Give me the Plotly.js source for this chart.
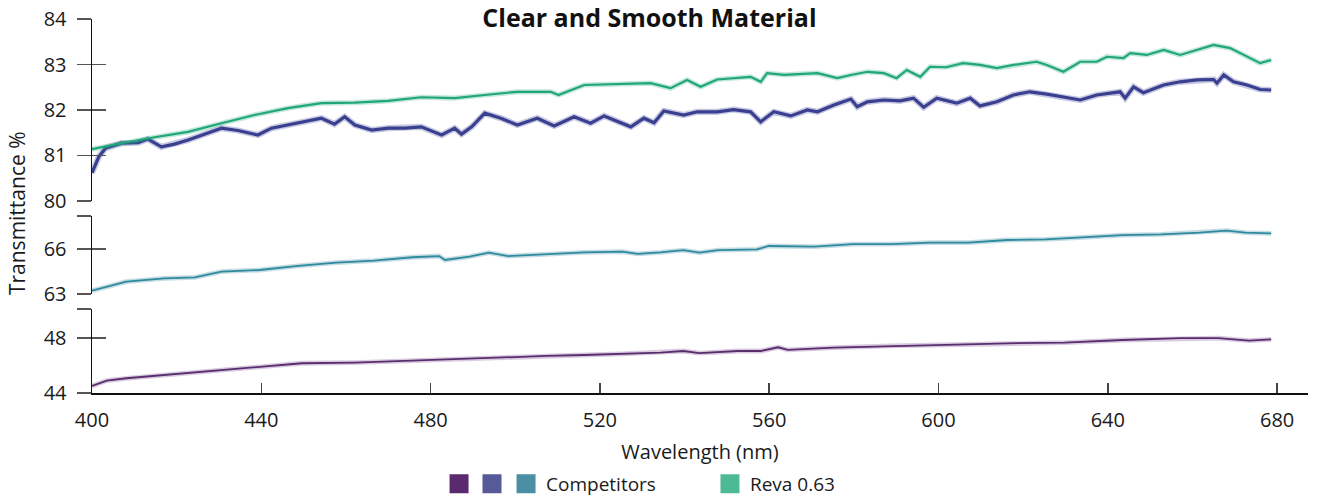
<!DOCTYPE html>
<html>
<head>
<meta charset="utf-8">
<script src="https://cdn.plot.ly/plotly-3.0.1.min.js"></script>
<style>html,body{margin:0;padding:0;background:#fff;}#chart{width:1320px;height:497px;}</style>
</head>
<body>
<div id="chart"></div>
<script>
// ---- data ----
const xTicks = [400, 440, 480, 520, 560, 600, 640, 680];

const revaWl = [400,406.9,414.8,422.7,430.6,438.4,446.3,454.2,462.1,470,477.8,485.7,492.8,500.5,508.4,510.2,516.3,524.1,532,536.7,540.6,543.8,547.7,555.6,558,559.5,563.5,571.4,576.1,579.3,583.2,587.1,590.1,592.5,595.7,598,601.8,605.8,609.8,613.8,617.7,623.2,625.6,629.5,633.5,637.4,639.8,643.7,645.3,649.2,653.2,657.1,661.1,665,668.9,672.9,676,678.6];
const revaT  = [81.14,81.27,81.40,81.52,81.71,81.89,82.04,82.15,82.16,82.20,82.28,82.26,82.33,82.40,82.40,82.33,82.55,82.57,82.59,82.48,82.66,82.51,82.67,82.73,82.62,82.81,82.77,82.81,82.70,82.77,82.84,82.81,82.70,82.88,82.73,82.95,82.94,83.03,82.99,82.92,82.99,83.06,82.99,82.84,83.06,83.06,83.17,83.14,83.25,83.21,83.32,83.21,83.32,83.43,83.36,83.17,83.03,83.10];

const compBWl = [400,401.6,403.2,406.9,410.9,413.2,416.4,419.5,422.7,426.6,430.6,434.5,439.2,442.4,446.3,450.3,454.2,457.3,459.7,462.1,466.1,470,474,477.8,482.6,485.7,487.3,489.7,492.8,496.6,500.5,505.2,509.2,513.9,517.8,521,527.3,530.4,532.8,535.1,539.8,543,547.7,551.6,555.6,558,561.1,565.1,569,571.4,575.3,579.3,580.8,583.2,587.1,590.9,594.1,596.5,599.6,604.3,607.5,609.8,613.8,617.7,621.6,625.6,631.1,633.5,637.4,642.9,644.1,646.1,648.4,653.2,657.1,661.1,665,665.8,667.4,669.7,672.9,676,678.6];
const compBT  = [80.62,80.97,81.16,81.27,81.28,81.36,81.19,81.25,81.34,81.47,81.60,81.55,81.45,81.60,81.67,81.74,81.82,81.69,81.85,81.67,81.56,81.60,81.60,81.63,81.45,81.60,81.47,81.63,81.93,81.82,81.67,81.82,81.65,81.85,81.71,81.87,81.63,81.82,81.72,81.98,81.89,81.96,81.96,82.01,81.96,81.74,81.96,81.87,82.00,81.96,82.11,82.24,82.07,82.18,82.22,82.20,82.26,82.06,82.26,82.15,82.26,82.09,82.18,82.33,82.40,82.35,82.26,82.22,82.33,82.40,82.26,82.51,82.38,82.55,82.62,82.66,82.67,82.59,82.77,82.62,82.55,82.45,82.44];

const compCWl = [400,403.5,408.1,417.1,424.3,430.6,439.6,448.7,457.7,466.7,475.7,482,483.4,489.2,493.8,498.3,507.3,516.3,525.3,528.9,534.3,539.7,543.5,548,557.1,559.9,570.7,579.8,588.9,598,607.1,616.2,625.3,634.4,643.5,652.6,661.6,668,672.5,678.6];
const compCT  = [63.22,63.49,63.82,64.04,64.11,64.49,64.60,64.87,65.09,65.22,65.45,65.53,65.27,65.49,65.76,65.53,65.67,65.78,65.82,65.67,65.78,65.93,65.76,65.93,65.98,66.20,66.16,66.33,66.33,66.42,66.42,66.60,66.64,66.78,66.93,66.98,67.09,67.22,67.09,67.04];

const compAWl = [400,403.5,408.1,417.1,426.1,435.1,444.1,449.6,462.1,471.1,480.1,489.2,498.2,507.3,516.3,525.3,534.3,539.7,543.5,552.6,558,562.1,564.4,575.3,588.9,602.5,616.2,629.8,643.5,657.1,666.1,673.4,678.6];
const compAT  = [44.51,44.90,45.07,45.31,45.55,45.80,45.99,46.16,46.21,46.31,46.40,46.52,46.64,46.69,46.76,46.84,46.93,47.05,46.89,47.05,47.05,47.32,47.13,47.30,47.42,47.49,47.61,47.66,47.85,47.98,47.98,47.80,47.90];

const topTicks = [80, 81, 82, 83, 84];
const midTicks = [63, 66, 68.2];
const midLabels = ['63', '66', ''];
const botTicks = [44, 48, 50.1];
const botLabels = ['44', '48', ''];

const legendNames = [' ', ' ', 'Competitors', 'Reva 0.63'];
const legendColors = ['#5B2A6E', '#575A99', '#4A8FA3', '#4DB995'];

// ---- traces ----
function lineTraces(xs, ys, yax, color, halo, w) {
  return [
    {x: xs, y: ys, xaxis: 'x', yaxis: yax, mode: 'lines', showlegend: false, hoverinfo: 'skip',
     line: {color: halo, width: w + 3, shape: 'linear'}},
    {x: xs, y: ys, xaxis: 'x', yaxis: yax, mode: 'lines', showlegend: false, hoverinfo: 'skip',
     line: {color: color, width: w, shape: 'linear'}}
  ];
}

const traces = [].concat(
  lineTraces(compAWl, compAT, 'y3', '#5A2D6E', 'rgba(120,70,140,0.28)', 1.8),
  lineTraces(compCWl, compCT, 'y2', '#2E8A9E', 'rgba(60,140,160,0.30)', 1.8),
  lineTraces(compBWl, compBT, 'y', '#3A3F8F', 'rgba(70,75,160,0.30)', 3.2),
  lineTraces(revaWl, revaT, 'y', '#1FA67A', 'rgba(40,170,125,0.28)', 2.2)
);

const legendIds = ['legend', 'legend2', 'legend3', 'legend4'];
legendNames.forEach((n, i) => {
  traces.push({
    x: [null], y: [null], xaxis: 'x', yaxis: 'y', mode: 'markers', name: n,
    legend: legendIds[i], showlegend: true, hoverinfo: 'skip',
    marker: {symbol: 'square', size: 16, color: legendColors[i], line: {width: 3, color: legendColors[i]}}
  });
});

// ---- layout ----
const FONT = 'Open Sans, sans-serif';
const axisFont = {family: FONT, size: 20, color: '#1a1a1a'};
function yAx(domain, range, vals, labels) {
  return {domain: domain, range: range, tickvals: vals, ticktext: labels, ticks: 'outside', ticklen: 14,
    tickwidth: 1.5, tickcolor: '#555', showline: true, linecolor: '#111', linewidth: 1.5,
    showgrid: false, zeroline: false, anchor: 'x', fixedrange: true, tickfont: axisFont, ticklabelstandoff: 6};
}
function yIn(base, range, vals) {
  return {overlaying: base, range: range, tickvals: vals, ticks: 'inside', ticklen: 14, tickwidth: 1.5,
    tickcolor: '#555', showticklabels: false, showline: false, showgrid: false, zeroline: false,
    anchor: 'x', side: 'left', fixedrange: true};
}
const legBase = {orientation: 'h', yanchor: 'middle', xanchor: 'left', y: -0.2433,
  bgcolor: 'rgba(0,0,0,0)', borderwidth: 0, font: {family: FONT, size: 19, color: '#1a1a1a'}};

const layout = {
  width: 1320, height: 497,
  margin: {l: 92, r: 12, t: 19, b: 104, autoexpand: false},
  paper_bgcolor: '#fff', plot_bgcolor: '#fff',
  font: {family: FONT, size: 20, color: '#1a1a1a'},
  hovermode: false,
  title: {text: '<b>Clear and Smooth Material</b>', xref: 'container', x: 0.492, xanchor: 'center',
    yref: 'container', y: 0.964, yanchor: 'middle', font: {family: FONT, size: 25, color: '#111'}},
  xaxis: {range: [400, 687.3], tickvals: xTicks, ticks: 'inside', ticklen: 10, tickwidth: 1.5, tickcolor: '#444',
    showline: true, linecolor: '#111', linewidth: 1.5, showgrid: false, zeroline: false, anchor: 'y3',
    fixedrange: true, tickfont: axisFont, ticklabelstandoff: 8, automargin: false,
    title: {text: 'Wavelength (nm)', font: {family: FONT, size: 20, color: '#1a1a1a'}, standoff: 13}},
  yaxis: yAx([0.5134, 1], [80, 84], topTicks, topTicks.map(String)),
  yaxis2: yAx([0.2647, 0.4733], [63, 68.2], midTicks, midLabels),
  yaxis3: yAx([0, 0.2246], [44, 50.1], botTicks, botLabels),
  yaxis4: yIn('y', [80, 84], topTicks),
  yaxis5: yIn('y2', [63, 68.2], midTicks),
  yaxis6: yIn('y3', [44, 50.1], botTicks),
  annotations: [{text: 'Transmittance %', xref: 'paper', yref: 'paper', x: -0.0617, y: 0.481,
    xanchor: 'center', yanchor: 'middle', textangle: -90, showarrow: false,
    font: {family: FONT, size: 21, color: '#1a1a1a'}}],
  legend: Object.assign({}, legBase, {x: 0.2854}),
  legend2: Object.assign({}, legBase, {x: 0.3125}),
  legend3: Object.assign({}, legBase, {x: 0.3405}),
  legend4: Object.assign({}, legBase, {x: 0.5082})
};

// overlay axes need a trace to be drawn
traces.push({x: [null], y: [null], xaxis: 'x', yaxis: 'y4', showlegend: false, hoverinfo: 'skip', mode: 'lines'});
traces.push({x: [null], y: [null], xaxis: 'x', yaxis: 'y5', showlegend: false, hoverinfo: 'skip', mode: 'lines'});
traces.push({x: [null], y: [null], xaxis: 'x', yaxis: 'y6', showlegend: false, hoverinfo: 'skip', mode: 'lines'});

Plotly.newPlot('chart', traces, layout, {displayModeBar: false, staticPlot: true});
</script>
</body>
</html>
